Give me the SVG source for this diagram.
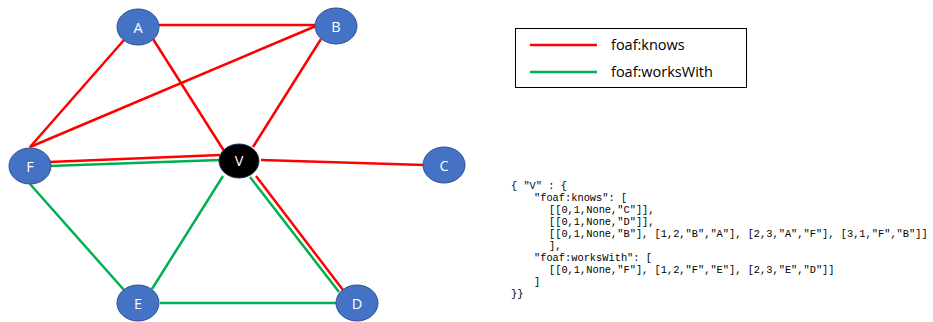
<svg xmlns="http://www.w3.org/2000/svg" width="933" height="322" viewBox="0 0 933 322">
  <style>
    .knows { stroke: #FF0000; stroke-width: 2.5; fill: none; }
    .works { stroke: #00B050; stroke-width: 2.5; fill: none; }
    .node ellipse { fill: #4472C4; stroke: #2F528F; stroke-width: 1; }
    .node text { fill: #FFFFFF; font-family: "Open Sans", "Liberation Sans", sans-serif; font-size: 14.5px; text-anchor: middle; dominant-baseline: central; }
    #V ellipse { fill: #000000; stroke: #1F3864; }
    .legend text { font-family: "Open Sans", "Liberation Sans", sans-serif; font-size: 14.5px; fill: #000; }
    .code { font-family: "Liberation Mono", "DejaVu Sans Mono", monospace; font-size: 10.35px; fill: #000; white-space: pre; }
  </style>

  <rect width="933" height="322" fill="#FFFFFF"/>

  <g id="connectors">
    <!-- foaf:knows -->
    <line class="knows" x1="159" y1="25" x2="316" y2="25"/>
    <line class="knows" x1="124" y1="40" x2="30" y2="147"/>
    <line class="knows" x1="30" y1="147" x2="316" y2="26"/>
    <line class="knows" x1="153" y1="39" x2="226" y2="154"/>
    <line class="knows" x1="321" y1="39" x2="253" y2="147"/>
    <line class="knows" x1="49" y1="162" x2="220" y2="155"/>
    <line class="knows" x1="261" y1="160" x2="424" y2="165"/>
    <line class="knows" x1="256" y1="176" x2="343" y2="290"/>
    <!-- foaf:worksWith -->
    <line class="works" x1="49" y1="166" x2="220" y2="160"/>
    <line class="works" x1="250" y1="177" x2="339" y2="292"/>
    <line class="works" x1="223" y1="176" x2="152" y2="289"/>
    <line class="works" x1="30" y1="184" x2="124" y2="290"/>
    <line class="works" x1="160" y1="303" x2="336" y2="303"/>
  </g>

  <g id="A" class="node"><ellipse cx="138" cy="27" rx="21" ry="18"/><text x="138" y="27">A</text></g>
  <g id="B" class="node"><ellipse cx="336" cy="26" rx="21" ry="18"/><text x="336" y="26">B</text></g>
  <g id="F" class="node"><ellipse cx="30" cy="166" rx="21" ry="18"/><text x="30" y="166">F</text></g>
  <g id="V" class="node"><ellipse cx="239" cy="161" rx="20" ry="17"/><text x="239" y="160">V</text></g>
  <g id="C" class="node"><ellipse cx="444" cy="165" rx="21" ry="18"/><text x="444" y="165">C</text></g>
  <g id="E" class="node"><ellipse cx="138" cy="303" rx="21" ry="18"/><text x="138" y="303">E</text></g>
  <g id="D" class="node"><ellipse cx="357" cy="303" rx="21" ry="18"/><text x="357" y="303">D</text></g>

  <g id="legend" class="legend">
    <rect x="515.5" y="28.5" width="231" height="59" fill="#FFFFFF" stroke="#000000" stroke-width="1"/>
    <line class="knows" x1="530" y1="45" x2="597" y2="45"/>
    <text x="611" y="50">foaf:knows</text>
    <line class="works" x1="530" y1="72" x2="597" y2="72"/>
    <text x="611" y="77">foaf:worksWith</text>
  </g>

  <g id="code" class="code">
    <text x="511" y="189">{ "V" : {</text>
    <text x="534" y="201">"foaf:knows": [</text>
    <text x="549" y="213">[[0,1,None,"C"]],</text>
    <text x="549" y="225">[[0,1,None,"D"]],</text>
    <text x="549" y="237">[[0,1,None,"B"], [1,2,"B","A"], [2,3,"A","F"], [3,1,"F","B"]]</text>
    <text x="549" y="249">],</text>
    <text x="534" y="261">"foaf:worksWith": [</text>
    <text x="549" y="273">[[0,1,None,"F"], [1,2,"F","E"], [2,3,"E","D"]]</text>
    <text x="534" y="285">]</text>
    <text x="511" y="297">}}</text>
  </g>
</svg>
